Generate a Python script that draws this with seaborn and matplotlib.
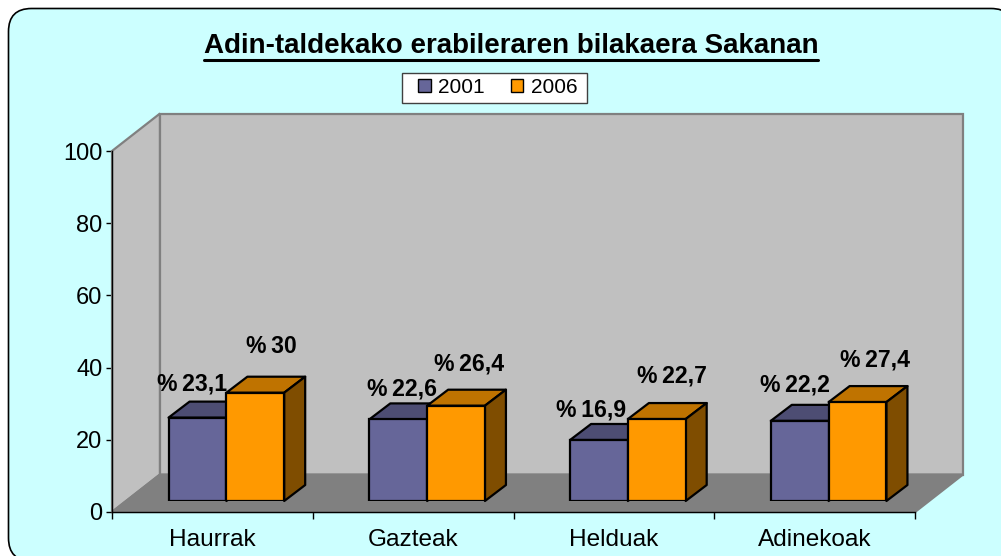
import matplotlib
matplotlib.use("Agg")
import matplotlib.pyplot as plt
import pandas as pd
import seaborn as sns
from matplotlib.patches import FancyBboxPatch, Polygon, Rectangle
from matplotlib.transforms import IdentityTransform

taldeak = ["Haurrak", "Gazteak", "Helduak", "Adinekoak"]
urte_2001 = [23.1, 22.6, 16.9, 22.2]
urte_2006 = [30, 26.4, 22.7, 27.4]
y_ticks = [0, 20, 40, 60, 80, 100]

# label nudges in pixels, from the top centre of each bar
nudge_2001 = [(-5, 34), (4, 30), (-8, 30), (-5, 36)]
nudge_2006 = [(16, 46), (13, 42), (15, 43), (17, 42)]

W, H = 1001, 556
sns.set_theme(style="white")
plt.rcParams["font.family"] = ["Liberation Sans", "DejaVu Sans"]

df = pd.DataFrame({
    "taldea": taldeak * 2,
    "urtea": ["2001"] * 4 + ["2006"] * 4,
    "balioa": urte_2001 + urte_2006,
})

fig = plt.figure(figsize=(W / 100, H / 100), dpi=100, facecolor="white")


def px_rect(left, bottom_y, width, height):
    return [left / W, (H - bottom_y) / H, width / W, height / H]


# rounded chart area, runs off the right and bottom of the picture
fig.patches.append(FancyBboxPatch(
    (8.5, -5), 1005.5, H - 8.5 + 5,
    boxstyle="round,pad=0,rounding_size=23",
    transform=IdentityTransform(), facecolor="#CCFFFF", edgecolor="black", linewidth=1.2, zorder=-2,
))
# legend frame
fig.patches.append(Rectangle((402, H - 103), 185, 30, transform=IdentityTransform(),
                             facecolor="white", edgecolor="#404040", linewidth=1, zorder=-1))

ax = fig.add_axes(px_rect(112, 512, 803, 361))
ax.set_xlim(-0.5, 3.5)
ax.set_ylim(0, 100)
ax.patch.set_visible(False)

# one pixel in data units, used for the fake depth
ux = 4 / 803
uy = 100 / 361
wall_dx, wall_dy = 48 * ux, 37.5 * uy

wall = dict(edgecolor="#808080", linewidth=1.6, clip_on=False, zorder=1)
ax.add_patch(Polygon([(-0.5, 0), (-0.5, 100), (-0.5 + wall_dx, 100 + wall_dy), (-0.5 + wall_dx, wall_dy)],
                     facecolor="#C0C0C0", **wall))
ax.add_patch(Rectangle((-0.5 + wall_dx, wall_dy), 4, 100, facecolor="#C0C0C0", **wall))
ax.add_patch(Polygon([(-0.5, 0), (3.5, 0), (3.5 + wall_dx, wall_dy), (-0.5 + wall_dx, wall_dy)],
                     facecolor="#808080", **wall))

for s in ["top", "right"]:
    ax.spines[s].set_visible(False)
for s in ["left", "bottom"]:
    ax.spines[s].set_color("black")
    ax.spines[s].set_linewidth(1)
    ax.spines[s].set_zorder(2)

ax.set_yticks(y_ticks)
ax.set_xticks([-0.5, 0.5, 1.5, 2.5, 3.5])
ax.set_xticklabels([])
ax.set_xticks(range(4), taldeak, minor=True)
ax.tick_params(axis="y", left=True, length=4, width=1, color="black", labelsize=17, labelcolor="black", pad=3)
ax.tick_params(axis="x", which="major", bottom=True, length=5, width=1, color="black")
ax.tick_params(axis="x", which="minor", bottom=False, length=0, labelsize=17.6, labelcolor="black", pad=12)

# bars sit a bit inside the floor so they get their own shifted axes
ax_bars = fig.add_axes(px_rect(112 + 14, 512 - 11, 803, 361))
ax_bars.patch.set_visible(False)
sns.barplot(data=df, x="taldea", y="balioa", hue="urtea", palette=["#666699", "#FF9900"],
            width=0.576, gap=0, edgecolor="black", linewidth=1.6, saturation=1, ax=ax_bars)
ax_bars.set_xlim(-0.5, 3.5)
ax_bars.set_ylim(0, 100)
ax_bars.set_axis_off()

bar_dx, bar_dy = 21 * ux, 16 * uy
top_colors = ["#4D4D73", "#BF7300"]
side_colors = ["#4D4D73", "#7F4D00"]
nudges = [nudge_2001, nudge_2006]

for i, cont in enumerate(ax_bars.containers):
    for bar, (nx, ny) in zip(cont, nudges[i]):
        x0, w, h = bar.get_x(), bar.get_width(), bar.get_height()
        bar.set_zorder(5)
        face = dict(edgecolor="black", linewidth=1.6, clip_on=False, zorder=2 + i, joinstyle="round")
        ax_bars.add_patch(Polygon([(x0, h), (x0 + w, h), (x0 + w + bar_dx, h + bar_dy), (x0 + bar_dx, h + bar_dy)],
                                  facecolor=top_colors[i], **face))
        ax_bars.add_patch(Polygon([(x0 + w, 0), (x0 + w + bar_dx, bar_dy), (x0 + w + bar_dx, h + bar_dy), (x0 + w, h)],
                                  facecolor=side_colors[i], **face))
        label = f"%\u2009{h:g}".replace(".", ",")
        ax_bars.annotate(label, (x0 + w / 2, h), xytext=(nx, ny), textcoords="offset pixels",
                         ha="center", va="center", fontsize=16.6, fontweight="bold", color="black",
                         annotation_clip=False, zorder=6)

leg = ax_bars.legend(loc="center", bbox_to_anchor=(497.5 / W, 1 - 87.5 / H), bbox_transform=fig.transFigure,
                     ncol=2, frameon=False, fontsize=15, handlelength=0.62, handleheight=0.62,
                     handletextpad=0.35, columnspacing=1.25, borderpad=0.3, borderaxespad=0, title=None)
for t in leg.get_texts():
    t.set_color("black")
for h in leg.get_patches():
    h.set_edgecolor("black")
    h.set_linewidth(1)

title = fig.text(511 / W, 1 - 46 / H, "Adin-taldekako erabileraren bilakaera Sakanan",
                 ha="center", va="center", fontsize=20, fontweight="bold", color="black")
fig.canvas.draw()
box = title.get_window_extent(fig.canvas.get_renderer())
fig.add_artist(plt.Line2D([box.x0 / W, box.x1 / W], [1 - 59.5 / H, 1 - 59.5 / H],
                          transform=fig.transFigure, color="black", linewidth=2.2))

fig.savefig("out.png", dpi=100, facecolor="white")
